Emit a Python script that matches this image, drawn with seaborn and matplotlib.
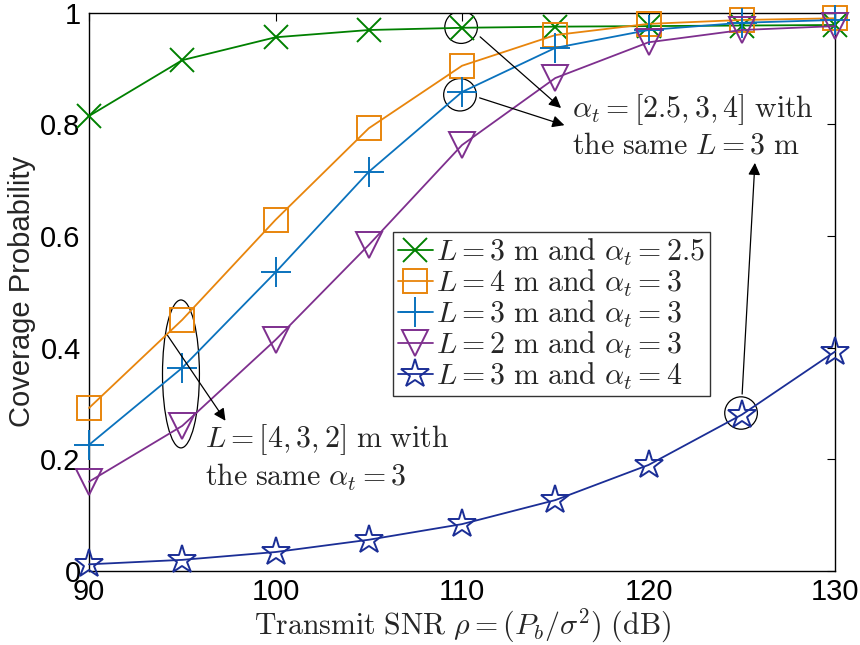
import numpy as np
import pandas as pd
import matplotlib
matplotlib.use("Agg")
import matplotlib.pyplot as plt
from matplotlib.patches import Ellipse
import seaborn as sns

snr = [90, 95, 100, 105, 110, 115, 120, 125, 130]
cov_L3_a25 = [0.815, 0.915, 0.956, 0.969, 0.973, 0.975, 0.976, 0.977, 0.978]
cov_L4_a3 = [0.292, 0.450, 0.629, 0.793, 0.905, 0.960, 0.980, 0.987, 0.990]
cov_L3_a3 = [0.226, 0.364, 0.535, 0.715, 0.858, 0.937, 0.969, 0.982, 0.987]
cov_L2_a3 = [0.160, 0.260, 0.414, 0.584, 0.763, 0.883, 0.947, 0.969, 0.976]
cov_L3_a4 = [0.012, 0.020, 0.034, 0.056, 0.084, 0.127, 0.190, 0.280, 0.393]

labels = [r"$L = 3\ \mathrm{m\ and}\ \alpha_t = 2.5$",
          r"$L = 4\ \mathrm{m\ and}\ \alpha_t = 3$",
          r"$L = 3\ \mathrm{m\ and}\ \alpha_t = 3$",
          r"$L = 2\ \mathrm{m\ and}\ \alpha_t = 3$",
          r"$L = 3\ \mathrm{m\ and}\ \alpha_t = 4$"]
x_ticks = [90, 100, 110, 120, 130]
y_ticks = [0, 0.2, 0.4, 0.6, 0.8, 1]
y_tick_labels = ["0", "0.2", "0.4", "0.6", "0.8", "1"]

sns.set_theme(style="white")
plt.rcParams["font.family"] = ["Liberation Sans", "DejaVu Sans"]
plt.rcParams["mathtext.fontset"] = "cm"

fig = plt.figure(figsize=(8.6, 6.45), dpi=100)
ax = fig.add_axes([0.1035, 0.1147, 0.8675, 0.8656])

series = [cov_L3_a25, cov_L4_a3, cov_L3_a3, cov_L2_a3, cov_L3_a4]
colors = ["#008000", "#E8850C", "#0A72BD", "#7E2F8E", "#1B2E96"]
markers = ["x", "s", "+", "v", "*"]
msizes = [17, 17, 22, 19, 21]

for vals, c, m, ms, lab in zip(series, colors, markers, msizes, labels):
    df = pd.DataFrame({"snr": snr, "cov": vals})
    sns.lineplot(data=df, x="snr", y="cov", ax=ax, color=c, marker=m,
                 markersize=ms, markerfacecolor="none", markeredgecolor=c,
                 markeredgewidth=1.4, linewidth=1.3, label=lab, clip_on=False)

ax.set_xlim(90, 130)
ax.set_ylim(0, 1)
ax.set_xticks(x_ticks)
ax.set_yticks(y_ticks)
ax.set_yticklabels(y_tick_labels)
ax.tick_params(direction="in", top=True, right=True, length=6, width=0.8,
               labelsize=21, colors="black", pad=6)
ax.tick_params(axis="x", pad=5)
for s in ax.spines.values():
    s.set_color("black")
    s.set_linewidth(1.0)
    s.set_zorder(0.5)

ax.set_xlabel(r"$\mathrm{Transmit\ SNR}\ \rho = (P_b/\sigma^2)\ \mathrm{(dB)}$",
              fontsize=21.5, labelpad=1)
ax.set_ylabel("Coverage Probability", fontsize=21, labelpad=3)

leg = ax.legend(loc="upper left", bbox_to_anchor=(0.4075, 0.607),
                borderaxespad=0, fontsize=21.5, frameon=True, fancybox=False,
                handlelength=1.2, handletextpad=0.1, borderpad=0.15,
                labelspacing=0.0)
leg.get_frame().set_edgecolor("black")
leg.get_frame().set_linewidth(1.0)

# annotations
ax.add_patch(Ellipse((94.93, 0.353), 1.98, 0.265, fill=False, ec="black", lw=0.9))
for cx, cy in [(109.95, 0.974), (109.89, 0.853), (124.96, 0.283)]:
    ax.add_patch(Ellipse((cx, cy), 1.75, 0.058, fill=False, ec="black", lw=0.9))

arrow = dict(arrowstyle="-|>", color="black", lw=0.9, mutation_scale=18)
ax.annotate("", xy=(97.40, 0.265), xytext=(94.13, 0.426), arrowprops=arrow)
ax.annotate("", xy=(115.42, 0.826), xytext=(110.86, 0.960), arrowprops=arrow)
ax.annotate("", xy=(115.63, 0.797), xytext=(110.80, 0.849), arrowprops=arrow)
ax.annotate("", xy=(125.71, 0.736), xytext=(125.01, 0.312), arrowprops=arrow)

fs = 21.5
ax.text(96.22, 0.235, r"$L = [4, 3, 2]\ \mathrm{m\ with}$", fontsize=fs, va="center")
ax.text(96.22, 0.168, r"$\mathrm{the\ same}\ \alpha_t = 3$", fontsize=fs, va="center")
ax.text(115.9, 0.826, r"$\alpha_t = [2.5, 3, 4]\ \mathrm{with}$", fontsize=fs, va="center")
ax.text(115.9, 0.763, r"$\mathrm{the\ same}\ L = 3\ \mathrm{m}$", fontsize=fs, va="center")

fig.savefig("out.png", dpi=100)
